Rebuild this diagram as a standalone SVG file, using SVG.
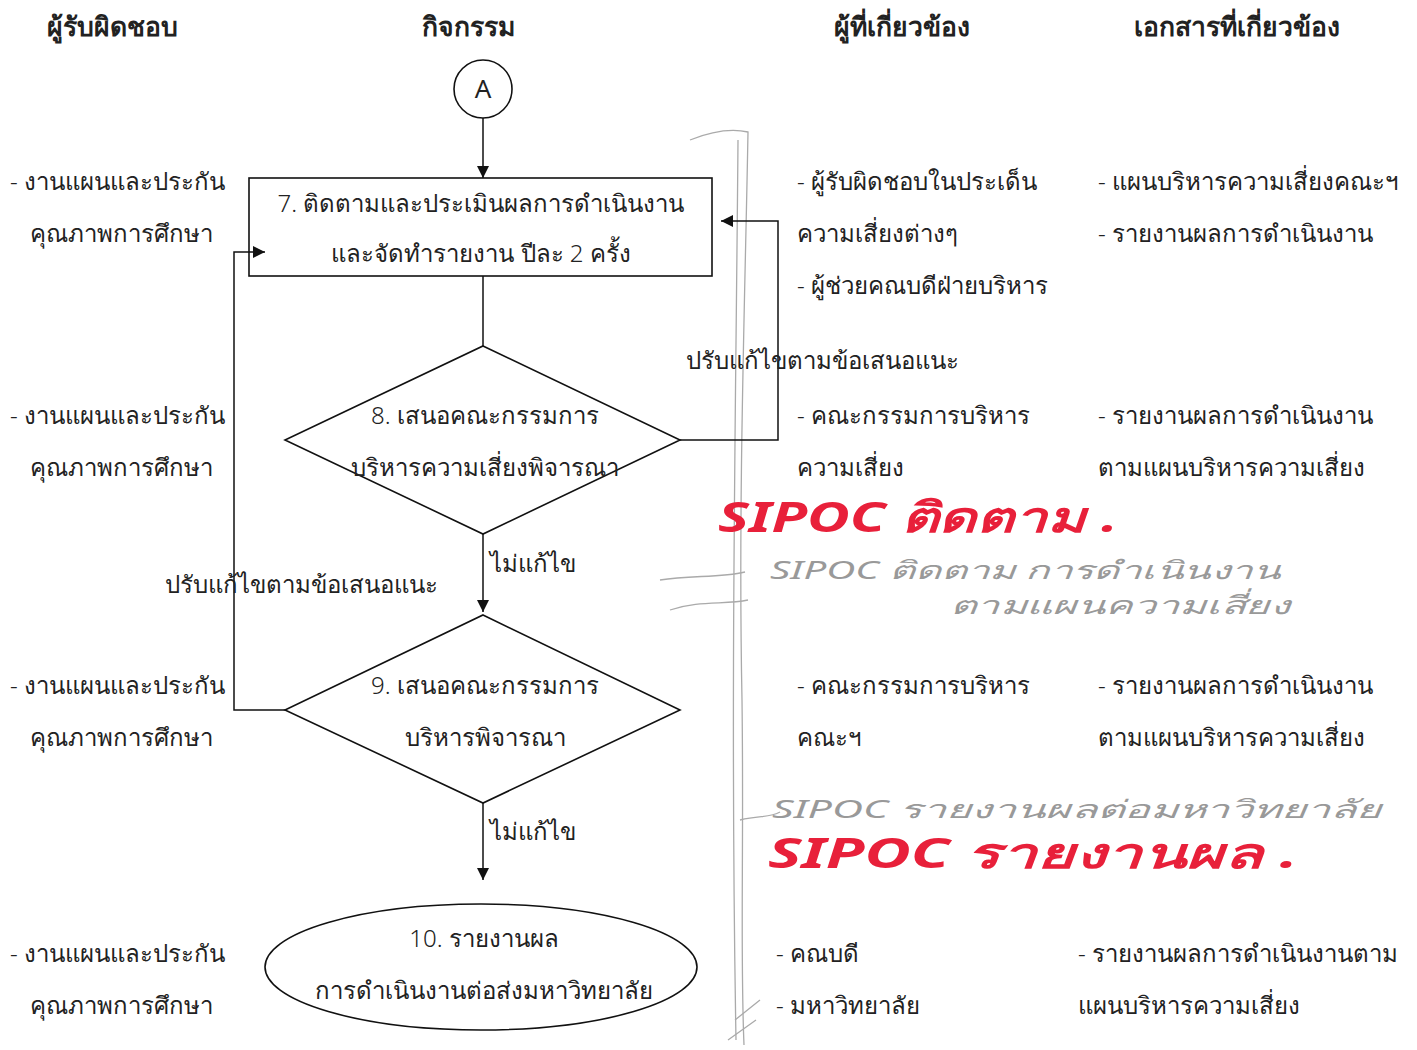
<svg xmlns="http://www.w3.org/2000/svg" width="1417" height="1050" viewBox="0 0 1417 1050">
<style>
text{font-family:"Noto Sans","DejaVu Sans",sans-serif;fill:#222;}
.h{font-size:26.5px;font-weight:bold;}
.t{font-size:24px;font-weight:300;}
.c{text-anchor:middle;}
.shape{fill:none;stroke:#111;stroke-width:1.6;}
.ln{fill:none;stroke:#111;stroke-width:1.5;}
.red{font-size:42px;font-weight:bold;fill:#e8203a;font-style:italic;}
.gray{font-size:25px;fill:#999;font-style:italic;}
.pencil{fill:none;stroke:#aaa;stroke-width:1.3;}
</style>
<defs>
<marker id="ah" viewBox="0 0 10 10" refX="10" refY="5" markerWidth="13" markerHeight="12" markerUnits="userSpaceOnUse" orient="auto"><path d="M0,0 L10,5 L0,10 z" fill="#111"/></marker>
</defs>
<g id="headers">
<text class="h" x="47" y="36">ผู้รับผิดชอบ</text>
<text class="h c" x="468" y="36">กิจกรรม</text>
<text class="h c" x="902" y="36">ผู้ที่เกี่ยวข้อง</text>
<text class="h c" x="1237" y="36">เอกสารที่เกี่ยวข้อง</text>
</g>
<g id="pencil-line">
<path class="pencil" d="M690,140 C710,132 730,128 748,132 C745,300 738,500 742,700 C744,850 740,950 744,1045"/>
<path class="pencil" d="M738,140 C736,400 730,700 736,1040"/>
<path class="pencil" d="M660,580 C690,575 720,578 745,572 M670,610 C700,600 725,605 748,600 M740,820 C760,815 770,818 780,812 M735,1020 L760,1000 M728,1040 L756,1020"/>
</g>
<g id="connectors">
<line class="ln" x1="483" y1="118" x2="483" y2="178" marker-end="url(#ah)"/>
<line class="ln" x1="483" y1="276" x2="483" y2="346"/>
<polyline class="ln" points="680,440 778,440 778,221 721,221" marker-end="url(#ah)"/>
<line class="ln" x1="483" y1="534" x2="483" y2="612" marker-end="url(#ah)"/>
<polyline class="ln" points="285,710 234,710 234,252 265,252" marker-end="url(#ah)"/>
<line class="ln" x1="483" y1="803" x2="483" y2="880" marker-end="url(#ah)"/>
<text class="t" x="686" y="369">ปรับแก้ไขตามข้อเสนอแนะ</text>
<text class="t" x="165" y="593">ปรับแก้ไขตามข้อเสนอแนะ</text>
<text class="t" x="490" y="572">ไม่แก้ไข</text>
<text class="t" x="490" y="840">ไม่แก้ไข</text>
</g>
<g id="nodeA">
<circle class="shape" cx="483" cy="89" r="29"/>
<text class="c" x="483" y="98" style="font-size:26px;">A</text>
</g>
<g id="node7">
<rect class="shape" x="249" y="178" width="463" height="98"/>
<text class="t c" x="481" y="212">7. ติดตามและประเมินผลการดำเนินงาน</text>
<text class="t c" x="481" y="262">และจัดทำรายงาน ปีละ 2 ครั้ง</text>
</g>
<g id="node8">
<polygon class="shape" points="483,346 680,440 483,534 285,440"/>
<text class="t c" x="485" y="424">8. เสนอคณะกรรมการ</text>
<text class="t c" x="485" y="476">บริหารความเสี่ยงพิจารณา</text>
</g>
<g id="node9">
<polygon class="shape" points="483,615 680,710 483,803 285,710"/>
<text class="t c" x="485" y="694">9. เสนอคณะกรรมการ</text>
<text class="t c" x="485" y="746">บริหารพิจารณา</text>
</g>
<g id="node10">
<ellipse class="shape" cx="481" cy="967" rx="216" ry="63"/>
<text class="t c" x="484" y="947">10. รายงานผล</text>
<text class="t c" x="484" y="999">การดำเนินงานต่อส่งมหาวิทยาลัย</text>
</g>
<g id="responsible">
<text class="t" x="10" y="190">- งานแผนและประกัน</text>
<text class="t" x="30" y="242">คุณภาพการศึกษา</text>
<text class="t" x="10" y="424">- งานแผนและประกัน</text>
<text class="t" x="30" y="476">คุณภาพการศึกษา</text>
<text class="t" x="10" y="694">- งานแผนและประกัน</text>
<text class="t" x="30" y="746">คุณภาพการศึกษา</text>
<text class="t" x="10" y="962">- งานแผนและประกัน</text>
<text class="t" x="30" y="1014">คุณภาพการศึกษา</text>
</g>
<g id="related">
<text class="t" x="797" y="190">- ผู้รับผิดชอบในประเด็น</text>
<text class="t" x="797" y="242">ความเสี่ยงต่างๆ</text>
<text class="t" x="797" y="294">- ผู้ช่วยคณบดีฝ่ายบริหาร</text>
<text class="t" x="797" y="424">- คณะกรรมการบริหาร</text>
<text class="t" x="797" y="476">ความเสี่ยง</text>
<text class="t" x="797" y="694">- คณะกรรมการบริหาร</text>
<text class="t" x="797" y="746">คณะฯ</text>
<text class="t" x="776" y="962">- คณบดี</text>
<text class="t" x="776" y="1014">- มหาวิทยาลัย</text>
</g>
<g id="documents">
<text class="t" x="1098" y="190">- แผนบริหารความเสี่ยงคณะฯ</text>
<text class="t" x="1098" y="242">- รายงานผลการดำเนินงาน</text>
<text class="t" x="1098" y="424">- รายงานผลการดำเนินงาน</text>
<text class="t" x="1098" y="476">ตามแผนบริหารความเสี่ยง</text>
<text class="t" x="1098" y="694">- รายงานผลการดำเนินงาน</text>
<text class="t" x="1098" y="746">ตามแผนบริหารความเสี่ยง</text>
<text class="t" x="1078" y="962">- รายงานผลการดำเนินงานตาม</text>
<text class="t" x="1078" y="1014">แผนบริหารความเสี่ยง</text>
</g>
<g id="annotations">
<text class="red" x="718" y="532" textLength="400" lengthAdjust="spacingAndGlyphs">SIPOC ติดตาม .</text>
<text class="gray" x="770" y="579" textLength="510" lengthAdjust="spacingAndGlyphs">SIPOC ติดตาม การดำเนินงาน</text>
<text class="gray" x="950" y="614" textLength="340" lengthAdjust="spacingAndGlyphs">ตามแผนความเสี่ยง</text>
<text class="gray" x="772" y="818" textLength="610" lengthAdjust="spacingAndGlyphs">SIPOC รายงานผลต่อมหาวิทยาลัย</text>
<text class="red" x="768" y="868" textLength="530" lengthAdjust="spacingAndGlyphs">SIPOC รายงานผล .</text>
</g>
</svg>
